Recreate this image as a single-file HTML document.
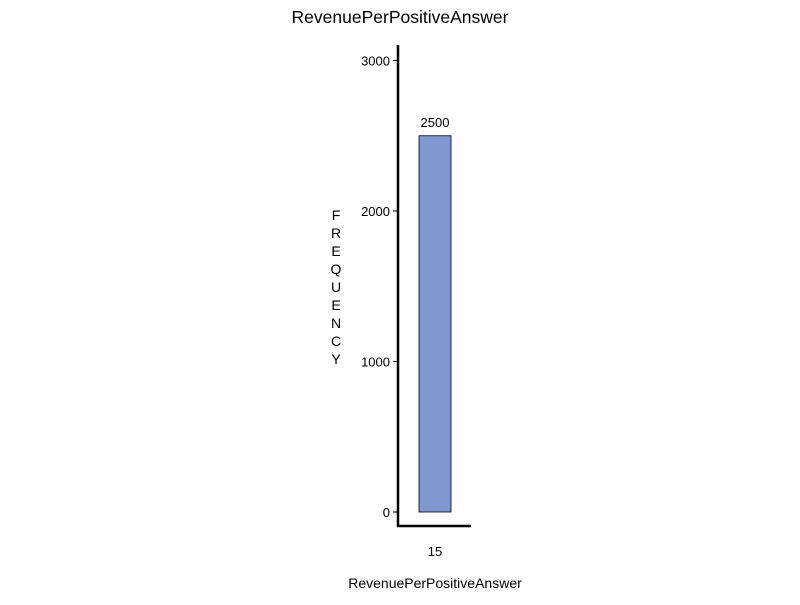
<!DOCTYPE html>
<html><head><meta charset="utf-8"><style>
body{margin:0;background:#fff;font-family:"Liberation Sans",Arial,sans-serif;}
svg text{font-family:"Liberation Sans",Arial,sans-serif;fill:#000;}
</style></head><body>
<svg id="chart" width="800" height="600">
<text x="400" y="23" font-size="17.5" text-anchor="middle">RevenuePerPositiveAnswer</text>
<g id="yaxis"></g>
<g id="bars"></g>
<g id="xaxis"></g>
<text x="435" y="588" font-size="14" text-anchor="middle">RevenuePerPositiveAnswer</text>
<g id="ytitle"></g>
</svg>
<script>
const categories = ["15"];
const values = [2500];
const yTicks = [0, 1000, 2000, 3000];
const ns = "http://www.w3.org/2000/svg";
function y(v){ return 512 - v * 0.1505; }
function x(i){ return 435 + i * 60; }
function mk(tag, attrs, parent){ const e=document.createElementNS(ns,tag); for(const k in attrs) e.setAttribute(k,attrs[k]); parent.appendChild(e); return e; }
const ya=document.getElementById('yaxis'), xa=document.getElementById('xaxis'), bg=document.getElementById('bars'), yt=document.getElementById('ytitle');
const yl=mk('line',{x1:398,y1:45,x2:398,y2:527,stroke:'#000','stroke-width':2.5},ya);


yTicks.forEach(t=>{
  const l=mk('line',{x1:393,y1:y(t),x2:398,y2:y(t),stroke:'#000','stroke-width':1},ya);
  
  
  const tx=mk('text',{x:390,y:y(t)+5,'font-size':13,'text-anchor':'end'},ya);
  tx.textContent=t;
  
  
});
const xl=mk('line',{x1:397,y1:526,x2:471,y2:526,stroke:'#000','stroke-width':2.5},xa);


categories.forEach((c,i)=>{
  const cx=x(i);
  const r=mk('rect',{x:cx-16,y:y(values[i]),width:32,height:y(0)-y(values[i]),fill:'#7f98cf',stroke:'#000','stroke-width':0.8},bg);
  
  
  const lb=mk('text',{x:cx,y:y(values[i])-9,'font-size':13,'text-anchor':'middle'},bg);
  lb.textContent=values[i];
  
  
  const xt=mk('text',{x:cx,y:556,'font-size':13,'text-anchor':'middle'},xa);
  xt.textContent=c;
  
  
});
"FREQUENCY".split('').forEach((ch,i)=>{
  const t=mk('text',{x:336,y:220+i*18,'font-size':14,'text-anchor':'middle'},yt);
  t.textContent=ch;
  
  
});
</script>
</body></html>
